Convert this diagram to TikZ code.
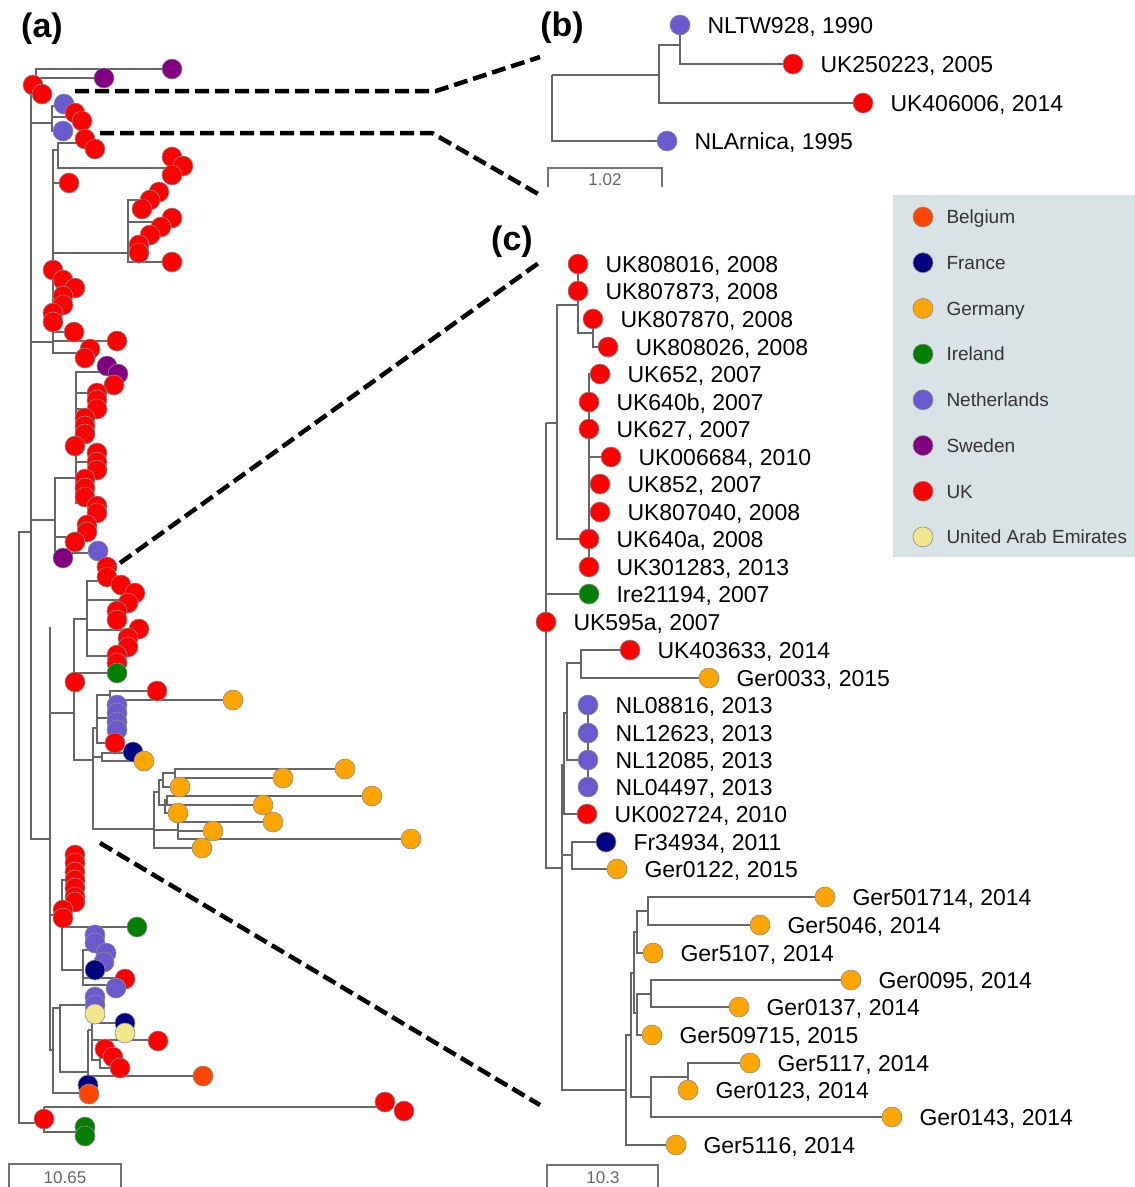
\documentclass[tikz,border=0pt]{standalone}
\usepackage{fontspec}
\setmainfont{Liberation Sans}
\usetikzlibrary{positioning,backgrounds}

\definecolor{bel}{RGB}{255,69,0}
\definecolor{fra}{RGB}{0,0,128}
\definecolor{ger}{RGB}{255,165,0}
\definecolor{ire}{RGB}{0,128,0}
\definecolor{ned}{RGB}{106,90,205}
\definecolor{swe}{RGB}{128,0,128}
\definecolor{uk}{RGB}{255,0,0}
\definecolor{uae}{RGB}{240,230,140}
\definecolor{legendbg}{RGB}{217,227,229}

\tikzset{
	isodot/.style={circle, fill=#1, draw=black!45, line width=0.6pt, minimum size=20pt, inner sep=0pt},
	branch/.style={black!60, line width=1.1pt},
	isolabel/.style={font=\fontsize{23}{26}\selectfont, inner sep=0pt, text height=20pt, text depth=3.5pt},
	country/.style={font=\fontsize{19}{22}\selectfont, text=black!80, inner sep=0pt, text height=17pt, text depth=3.4pt},
	zoomline/.style={line width=4.5pt, dash pattern=on 14pt off 6pt},
	panel/.style={font=\fontsize{34}{38}\selectfont\bfseries, inner sep=0pt},
	scalebar/.style={black!55, line width=1.2pt},
	scalelab/.style={font=\fontsize{17}{20}\selectfont, text=black!60, inner sep=0pt},
}

\begin{document}
\begin{tikzpicture}[x=1pt, y=-1pt]
	\useasboundingbox (0,0) rectangle (1135,1187);

	% (a) whole tree
	\draw[branch] (31,532) -| (19,1123) -- (44,1123);
	\draw[branch] (44,1107) -- (44,1132) -- (85,1132);
	\draw[branch] (44,1107) -- (385,1107);
	\draw[branch] (31,78) -- (31,839) -- (50,839);
	\draw[branch] (31,78) -- (104,78);
	\draw[branch] (36,78) |- (172,69);
	\draw[branch] (31,123) -- (52,123);
	\draw[branch] (64,106) -| (52,131) -- (63,131);
	\draw[branch] (52,117) -- (82,117);
	\draw[branch] (31,342) -- (53,342);
	\draw[branch] (58,150) -| (53,353) -- (90,353);
	\draw[branch] (95,143) -| (58,168) -- (172,168);
	\draw[branch] (53,183) -- (69,183);
	\draw[branch] (53,253) -- (128,253);
	\draw[branch] (150,200) -| (128,262) -- (172,262);
	\draw[branch] (128,222) -- (172,222);
	\draw[branch] (128,245) -- (139,245);
	\draw[branch] (53,332) -- (74,332);
	\draw[branch] (53,341) -- (117,341);
	\draw[branch] (31,520) -- (55,520);
	\draw[branch] (76,478) -| (55,563);
	\draw[branch] (107,372) -| (76,503) -- (97,503);
	\draw[branch] (76,393) -- (97,393);
	\draw[branch] (76,409) -- (97,409);
	\draw[branch] (76,426) -- (85,426);
	\draw[branch] (76,462) -- (97,462);
	\draw[branch] (76,488) -- (85,488);
	\draw[branch] (55,537) -- (87,537);
	\draw[branch] (55,553) -- (98,553);
	\draw[branch] (50,627) -- (50,1050) -- (53,1050);
	\draw[branch] (50,713) -- (74,713);
	\draw[branch] (87,619) -| (74,760) -- (93,760);
	\draw[branch] (107,581) -| (87,656) -- (117,656);
	\draw[branch] (87,600) -- (128,600);
	\draw[branch] (87,630) -- (139,630);
	\draw[branch] (74,673) -- (117,673);
	\draw[branch] (97,728) -| (93,829) -- (154,829);
	\draw[branch] (110,695) -| (97,743) -- (115,743);
	\draw[branch] (97,718) -- (117,718);
	\draw[branch] (157,691) -| (110,700) -- (233,700);
	\draw[branch] (93,757) -- (102,757);
	\draw[branch] (133,753) -| (102,761) -- (144,761);
	\draw[branch] (159,792) -| (154,848) -- (202,848);
	\draw[branch] (154,830) -- (178,830);
	\draw[branch] (273,822) -| (178,839) -- (411,839);
	\draw[branch] (178,831) -- (213,831);
	\draw[branch] (163,780) -| (159,805) -- (165,805);
	\draw[branch] (175,773) -| (163,787) -- (180,787);
	\draw[branch] (345,769) -| (175,778) -- (283,778);
	\draw[branch] (167,800) -| (165,813) -- (178,813);
	\draw[branch] (372,796) -| (167,805) -- (263,805);
	\draw[branch] (50,915) -- (62,915);
	\draw[branch] (75,880) -| (62,970) -- (83,970);
	\draw[branch] (75,855) -- (75,902);
	\draw[branch] (62,927) -- (137,927);
	\draw[branch] (95,950) -| (83,985) -- (116,985);
	\draw[branch] (83,978) -- (125,978);
	\draw[branch] (60,1008) -| (53,1093) -- (89,1093);
	\draw[branch] (95,1005) -| (60,1072) -- (88,1072);
	\draw[branch] (95,997) -- (95,1014);
	\draw[branch] (88,1030) -- (88,1085);
	\draw[branch] (88,1076) -- (203,1076);
	\draw[branch] (88,1030) -- (92,1030);
	\draw[branch] (125,1023) -| (92,1060) -- (100,1060);
	\draw[branch] (92,1040) -- (158,1040);
	\draw[branch] (105,1049) -| (100,1068) -- (120,1068);

	\foreach \x/\y/\clr [count=\i] in {172/69/swe, 104/78/swe, 33/85/uk, 42/94/uk, 64/104/ned, 75/113/uk, 82/121/uk, 63/131/ned,
		85/139/uk, 95/149/uk, 172/157/uk, 183/166/uk, 172/175/uk, 69/183/uk, 159/192/uk, 150/200/uk, 142/209/uk, 172/218/uk,
		161/227/uk, 150/235/uk, 139/245/uk, 139/253/uk, 172/262/uk, 53/270/uk, 63/280/uk, 75/288/uk, 63/296/uk, 63/305/uk,
		53/313/uk, 53/322/uk, 74/332/uk, 117/341/uk, 90/349/uk, 85/358/uk, 107/366/swe, 118/374/swe, 114/385/uk, 97/393/uk,
		97/400/uk, 97/409/uk, 85/418/uk, 85/426/uk, 85/434/uk, 75/446/uk, 97/453/uk, 97/462/uk, 97/470/uk, 85/479/uk,
		85/488/uk, 85/497/uk, 97/506/uk, 97/513/uk, 87/525/uk, 87/532/uk, 75/542/uk, 98/551/ned, 63/558/swe, 107/567/uk,
		107/577/uk, 121/585/uk, 135/593/uk, 128/603/uk, 117/611/uk, 117/620/uk, 139/629/uk, 128/638/uk, 128/647/uk,
		117/655/uk, 117/663/uk, 117/673/ire, 75/682/uk, 157/691/uk, 233/700/ger, 117/705/ned, 117/713/ned, 117/722/ned,
		117/730/ned, 115/743/uk, 133/752/fra, 144/761/ger, 345/769/ger, 283/778/ger, 180/787/ger, 372/796/ger, 263/805/ger,
		178/813/ger, 273/822/ger, 213/831/ger, 411/839/ger, 202/848/ger, 75/855/uk, 75/863/uk, 75/872/uk, 75/880/uk,
		75/888/uk, 75/897/uk, 75/902/uk, 63/910/uk, 63/918/uk, 137/927/ire, 95/935/ned, 95/943/ned, 106/953/ned,
		104/962/ned, 95/970/fra, 125/979/uk, 116/988/ned, 95/997/ned, 95/1005/ned, 95/1014/uae, 125/1023/fra, 125/1033/uae,
		158/1041/uk, 105/1049/uk, 113/1057/uk, 120/1068/uk, 203/1076/bel, 88/1085/fra, 89/1094/bel, 385/1102/uk,
		404/1111/uk, 44/1119/uk, 85/1127/ire, 85/1136/ire} {
		\node[isodot=\clr] (a\i) at (\x,\y) {};
	}

	% (b) zoom on the top of the tree
	\foreach \n/\x/\y/\clr/\txt in {1/680/25/ned/{NLTW928, 1990}, 2/793/64/uk/{UK250223, 2005},
		3/863/103/uk/{UK406006, 2014}, 4/667/141/ned/{NLArnica, 1995}} {
		\node[isodot=\clr] (b\n) at (\x,\y) {};
		\node[isolabel, right=17pt of b\n] (bl\n) {\txt};
	}
	\coordinate (bR) at (552,75);
	\coordinate (bN1) at (659,75);
	\coordinate (bN2) at (680,45);

	% (c) zoom on the middle of the tree
	\foreach \n/\x/\y/\clr/\txt in {1/578/264/uk/{UK808016, 2008}, 2/578/291/uk/{UK807873, 2008},
		3/593/319/uk/{UK807870, 2008}, 4/608/347/uk/{UK808026, 2008}, 5/600/374/uk/{UK652, 2007},
		6/589/402/uk/{UK640b, 2007}, 7/589/429/uk/{UK627, 2007}, 8/611/457/uk/{UK006684, 2010},
		9/600/484/uk/{UK852, 2007}, 10/600/512/uk/{UK807040, 2008}, 11/589/539/uk/{UK640a, 2008},
		12/589/567/uk/{UK301283, 2013}, 13/589/594/ire/{Ire21194, 2007}, 14/546/622/uk/{UK595a, 2007},
		15/630/650/uk/{UK403633, 2014}, 16/709/678/ger/{Ger0033, 2015}, 17/588/705/ned/{NL08816, 2013},
		18/588/733/ned/{NL12623, 2013}, 19/588/760/ned/{NL12085, 2013}, 20/588/787/ned/{NL04497, 2013},
		21/587/814/uk/{UK002724, 2010}, 22/606/842/fra/{Fr34934, 2011}, 23/617/869/ger/{Ger0122, 2015},
		24/825/897/ger/{Ger501714, 2014}, 25/760/925/ger/{Ger5046, 2014}, 26/653/953/ger/{Ger5107, 2014},
		27/851/980/ger/{Ger0095, 2014}, 28/739/1007/ger/{Ger0137, 2014}, 29/652/1035/ger/{Ger509715, 2015},
		30/750/1063/ger/{Ger5117, 2014}, 31/688/1090/ger/{Ger0123, 2014}, 32/892/1117/ger/{Ger0143, 2014},
		33/676/1145/ger/{Ger5116, 2014}} {
		\node[isodot=\clr] (c\n) at (\x,\y) {};
		\node[isolabel, right=17pt of c\n] (cl\n) {\txt};
	}
	\coordinate (cD) at (546,423);
	\coordinate (cC) at (557,423);
	\coordinate (cA) at (578,305);
	\coordinate (cA2) at (593,333);
	\coordinate (cB) at (589,539);
	\coordinate (cI) at (562,868);
	\coordinate (cG) at (564,765);
	\coordinate (cF) at (567,713);
	\coordinate (cE) at (581,663);
	\coordinate (cNL) at (588,760);
	\coordinate (cH) at (572,855);
	\coordinate (n9) at (626,1090);
	\coordinate (n8) at (631,1035);
	\coordinate (n5) at (634,973);
	\coordinate (n2) at (637,932);
	\coordinate (n1) at (648,911);
	\coordinate (n4) at (637,1013);
	\coordinate (n3) at (651,994);
	\coordinate (n7) at (651,1097);
	\coordinate (n6) at (688,1077);

	\begin{scope}[on background layer]
		\foreach \p/\q in {bR/bN1, bR/b4, bN1/bN2, bN1/b3, bN2/b1, bN2/b2}
			\draw[branch] (\p) |- (\q);
		\foreach \p/\q in {cD/cC, cD/c13, cD/c14, cD/cI, cC/cA, cC/cB, cA/c1, cA/c2, cA/cA2, cA2/c3, cA2/c4,
			cB/c5, cB/c6, cB/c7, cB/c8, cB/c9, cB/c10, cB/c11, cB/c12, cI/cG, cI/cH, cI/n9, cG/cF, cG/c21,
			cF/cE, cF/cNL, cE/c15, cE/c16, cNL/c17, cNL/c20, cH/c22, cH/c23, n9/n8, n9/c33, n8/n5, n8/n7,
			n5/n2, n5/n4, n2/n1, n2/c26, n1/c24, n1/c25, n4/n3, n4/c29, n3/c27, n3/c28, n7/n6, n7/c32,
			n6/c30, n6/c31}
			\draw[branch] (\p) |- (\q);
	\end{scope}

	% zoom lines
	\coordinate (z1) at (75,91);
	\coordinate (z1k) at (436,91);
	\coordinate (z1e) at (540,57);
	\coordinate (z2) at (100,133);
	\coordinate (z2k) at (432,133);
	\coordinate (z2e) at (540,195);
	\coordinate (z3) at (120,563);
	\coordinate (z3e) at (540,262);
	\coordinate (z4) at (100,843);
	\coordinate (z4e) at (540,1105);
	\draw[zoomline] (z1) -- (z1k) -- (z1e);
	\draw[zoomline] (z2) -- (z2k) -- (z2e);
	\draw[zoomline] (z3) -- (z3e);
	\draw[zoomline] (z4) -- (z4e);

	% legend
	\fill[legendbg] (893,195) rectangle (1135,557);
	\foreach \clr/\name [count=\i from 0] in {bel/Belgium, fra/France, ger/Germany, ire/Ireland,
		ned/Netherlands, swe/Sweden, uk/UK, uae/United Arab Emirates} {
		\node[isodot=\clr] (leg\i) at (923,{217+45.7*\i}) {};
		\node[country, right=13pt of leg\i] (legl\i) {\name};
	}

	% scale bars
	\draw[scalebar] (9,1187) |- (121,1164) -- (121,1187);
	\node[scalelab] (sa) at (65,1178) {10.65};
	\draw[scalebar] (548,187) |- (662,168) -- (662,187);
	\node[scalelab] (sb) at (605,180) {1.02};
	\draw[scalebar] (547,1187) |- (658,1165) -- (658,1187);
	\node[scalelab] (sc) at (603,1178) {10.3};

	% panel letters
	\node[panel] (pa) at (42,29) {(a)};
	\node[panel] (pb) at (562,28) {(b)};
	\node[panel] (pc) at (512,242) {(c)};
\end{tikzpicture}
\end{document}
